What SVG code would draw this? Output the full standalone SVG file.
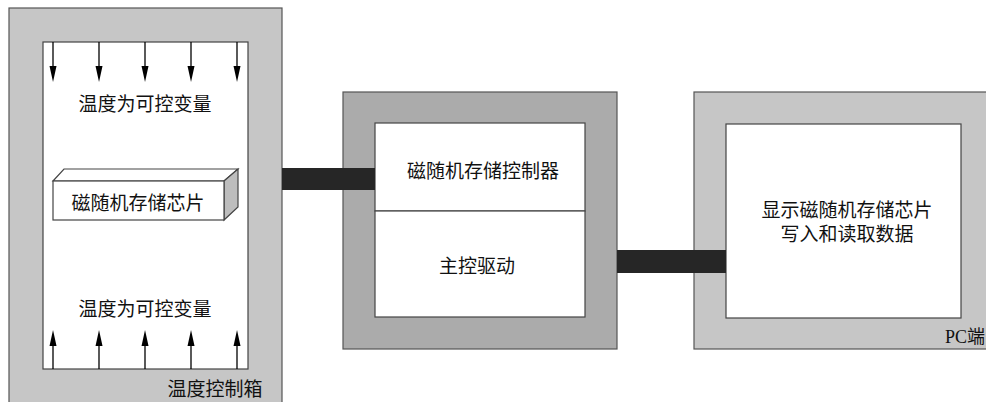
<svg xmlns="http://www.w3.org/2000/svg" width="986" height="402" viewBox="0 0 986 402">
<style>
.t{font-family:"Liberation Serif","Noto Sans CJK SC",serif;font-size:19px;fill:#111;text-anchor:middle}
.frame{stroke:#555;stroke-width:1.2}
.inner{fill:#fff;stroke:#444;stroke-width:1.2}
.arr{stroke:#000;stroke-width:1.3;fill:none}
.head{fill:#000}
.bar{fill:#262626}
</style>
<defs>
<path id="hd" class="head" d="M-3.5,-16 L3.5,-16 L0,0 Z"/>
<path id="hu" class="head" d="M-3.5,16 L3.5,16 L0,0 Z"/>
</defs>
<rect width="986" height="402" fill="#fff"/>
<g id="box-temp">
<rect class="frame" x="9" y="8" width="273" height="400" fill="#c6c6c6"/>
<rect class="inner" x="43" y="42" width="205" height="327"/>
<g id="arrows-down">
<line class="arr" x1="53" y1="42" x2="53" y2="72"/><use href="#hd" x="53" y="82"/>
<line class="arr" x1="99" y1="42" x2="99" y2="72"/><use href="#hd" x="99" y="82"/>
<line class="arr" x1="145" y1="42" x2="145" y2="72"/><use href="#hd" x="145" y="82"/>
<line class="arr" x1="191" y1="42" x2="191" y2="72"/><use href="#hd" x="191" y="82"/>
<line class="arr" x1="237" y1="42" x2="237" y2="72"/><use href="#hd" x="237" y="82"/>
</g>
<g id="arrows-up">
<line class="arr" x1="53" y1="369" x2="53" y2="340"/><use href="#hu" x="53" y="330"/>
<line class="arr" x1="99" y1="369" x2="99" y2="340"/><use href="#hu" x="99" y="330"/>
<line class="arr" x1="145" y1="369" x2="145" y2="340"/><use href="#hu" x="145" y="330"/>
<line class="arr" x1="191" y1="369" x2="191" y2="340"/><use href="#hu" x="191" y="330"/>
<line class="arr" x1="237" y1="369" x2="237" y2="340"/><use href="#hu" x="237" y="330"/>
</g>
<text class="t" x="145" y="111">温度为可控变量</text>
<text class="t" x="145" y="316">温度为可控变量</text>
<text class="t" x="215" y="396">温度控制箱</text>
</g>
<g id="chip">
<path d="M53,181 L64,169 L238,169 L224,181 Z" fill="#fff" stroke="#444" stroke-width="1.2"/>
<path d="M224,181 L238,169 L238,207 L224,220 Z" fill="#bdbdbd" stroke="#444" stroke-width="1.2"/>
<rect x="53" y="181" width="171" height="39" fill="#fff" stroke="#444" stroke-width="1.2"/>
<text class="t" x="138" y="210">磁随机存储芯片</text>
</g>
<g id="box-controller">
<rect class="frame" x="343" y="92" width="274" height="257" fill="#ababab"/>
<rect class="inner" x="375" y="123" width="210" height="88"/>
<rect class="inner" x="375" y="211" width="210" height="106"/>
<text class="t" x="483" y="178">磁随机存储控制器</text>
<text class="t" x="477" y="273">主控驱动</text>
</g>
<g id="box-pc">
<rect class="frame" x="694" y="92" width="300" height="257" fill="#c6c6c6"/>
<rect class="inner" x="726" y="124" width="235" height="194"/>
<text class="t" x="847" y="217">显示磁随机存储芯片</text>
<text class="t" x="847" y="241">写入和读取数据</text>
<text class="t" x="985" y="343" style="font-size:18px;text-anchor:end">PC端</text>
</g>
<g id="connectors">
<rect class="bar" x="282" y="168" width="93" height="22"/>
<rect class="bar" x="617" y="250" width="109" height="23"/>
</g>
</svg>
